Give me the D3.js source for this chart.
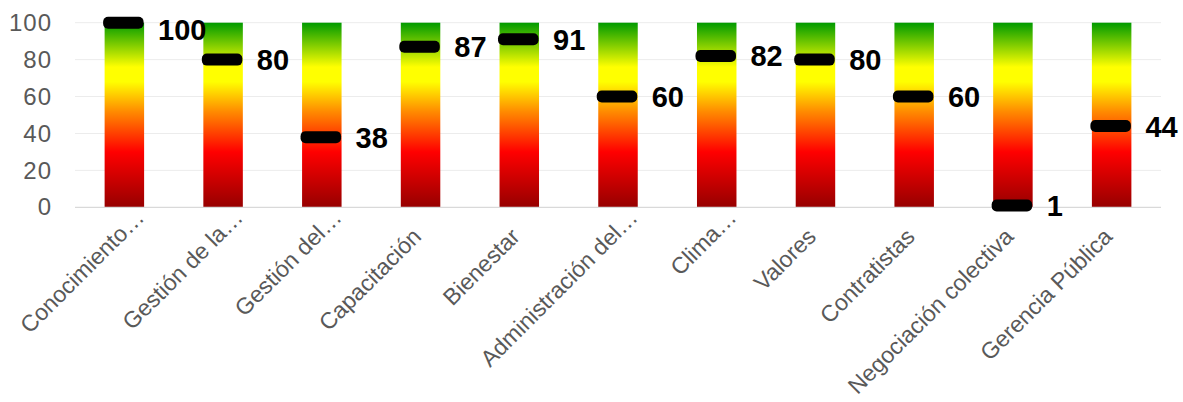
<!DOCTYPE html>
<html>
<head>
<meta charset="utf-8">
<script src="https://cdn.jsdelivr.net/npm/d3@7"></script>
<style>
  html, body { margin: 0; padding: 0; background: #fff; }
  svg { display: block; font-family: "Liberation Sans", Arial, sans-serif; }
</style>
</head>
<body>
<div id="chart"></div>
<script>
const categories = ["Conocimiento…", "Gestión de la…", "Gestión del…", "Capacitación", "Bienestar",
  "Administración del…", "Clima…", "Valores", "Contratistas", "Negociación colectiva", "Gerencia Pública"];
const values = [100, 80, 38, 87, 91, 60, 82, 80, 60, 1, 44];
const yTicks = [0, 20, 40, 60, 80, 100];

const width = 1183, height = 402;
const plot = { left: 75, right: 1161, top: 22.7, bottom: 207.3 };

const svg = d3.select("#chart").append("svg")
    .attr("width", width)
    .attr("height", height);

const x = d3.scaleBand()
    .domain(categories)
    .range([plot.left, plot.right])
    .paddingInner(0.6)
    .paddingOuter(0.3);

const y = d3.scaleLinear()
    .domain([0, 100])
    .range([plot.bottom, plot.top]);

// red -> yellow -> green, bottom to top
const grad = svg.append("defs").append("linearGradient")
    .attr("id", "heat")
    .attr("x1", 0).attr("y1", 1)
    .attr("x2", 0).attr("y2", 0);
[[0, "#960000"], [0.3, "#ff0000"], [0.52, "#ff8c00"], [0.68, "#ffff00"], [0.76, "#ffff00"], [1, "#009a00"]]
  .forEach(s => grad.append("stop").attr("offset", s[0]).attr("stop-color", s[1]));

// gridlines
svg.append("g")
  .selectAll("line")
  .data(yTicks.filter(t => t > 0))
  .enter().append("line")
    .attr("x1", plot.left).attr("x2", plot.right)
    .attr("y1", d => y(d)).attr("y2", d => y(d))
    .attr("stroke", "#ececec")
    .attr("stroke-width", 1);

// y axis labels
const yAxis = svg.append("g")
    .attr("transform", `translate(${plot.left},0)`)
    .call(d3.axisLeft(y).tickValues(yTicks).tickSize(0).tickPadding(23));
yAxis.select(".domain").remove();
yAxis.selectAll("text")
    .attr("font-size", 24)
    .attr("letter-spacing", 1)
    .attr("font-family", "'Liberation Sans', Arial, sans-serif")
    .attr("fill", "#595959");

// bars, full height 0..100
svg.append("g")
  .selectAll("rect")
  .data(categories)
  .enter().append("rect")
    .attr("x", d => x(d))
    .attr("width", x.bandwidth())
    .attr("y", y(100))
    .attr("height", y(0) - y(100))
    .attr("fill", "url(#heat)");

// baseline
svg.append("line")
    .attr("x1", plot.left).attr("x2", plot.right)
    .attr("y1", y(0)).attr("y2", y(0))
    .attr("stroke", "#d9d9d9")
    .attr("stroke-width", 1.3);

// value markers
const markers = svg.append("g")
  .selectAll("g")
  .data(values)
  .enter().append("g");

markers.append("rect")
    .attr("x", (d, i) => x(categories[i]) - 1.5)
    .attr("width", x.bandwidth() + 1)
    .attr("y", d => y(d) - 6)
    .attr("height", 12)
    .attr("rx", 5)
    .attr("fill", "#000");

markers.append("text")
    .attr("x", (d, i) => x(categories[i]) + x.bandwidth() + 14)
    .attr("y", d => Math.max(y(d), 30))
    .attr("dy", "0.36em")
    .attr("font-size", 29)
    .attr("font-weight", "bold")
    .attr("fill", "#000")
    .text(d => d);

// category labels, rotated
svg.append("g")
  .selectAll("text")
  .data(categories)
  .enter().append("text")
    .attr("transform", d => `translate(${x(d) + x.bandwidth() / 2 + 2},238) rotate(-45)`)
    .attr("dx", d => d.endsWith("…") ? 27 : 0)
    .attr("text-anchor", "end")
    .attr("font-size", 23)
    .attr("fill", "#595959")
    .text(d => d);
</script>
</body>
</html>
